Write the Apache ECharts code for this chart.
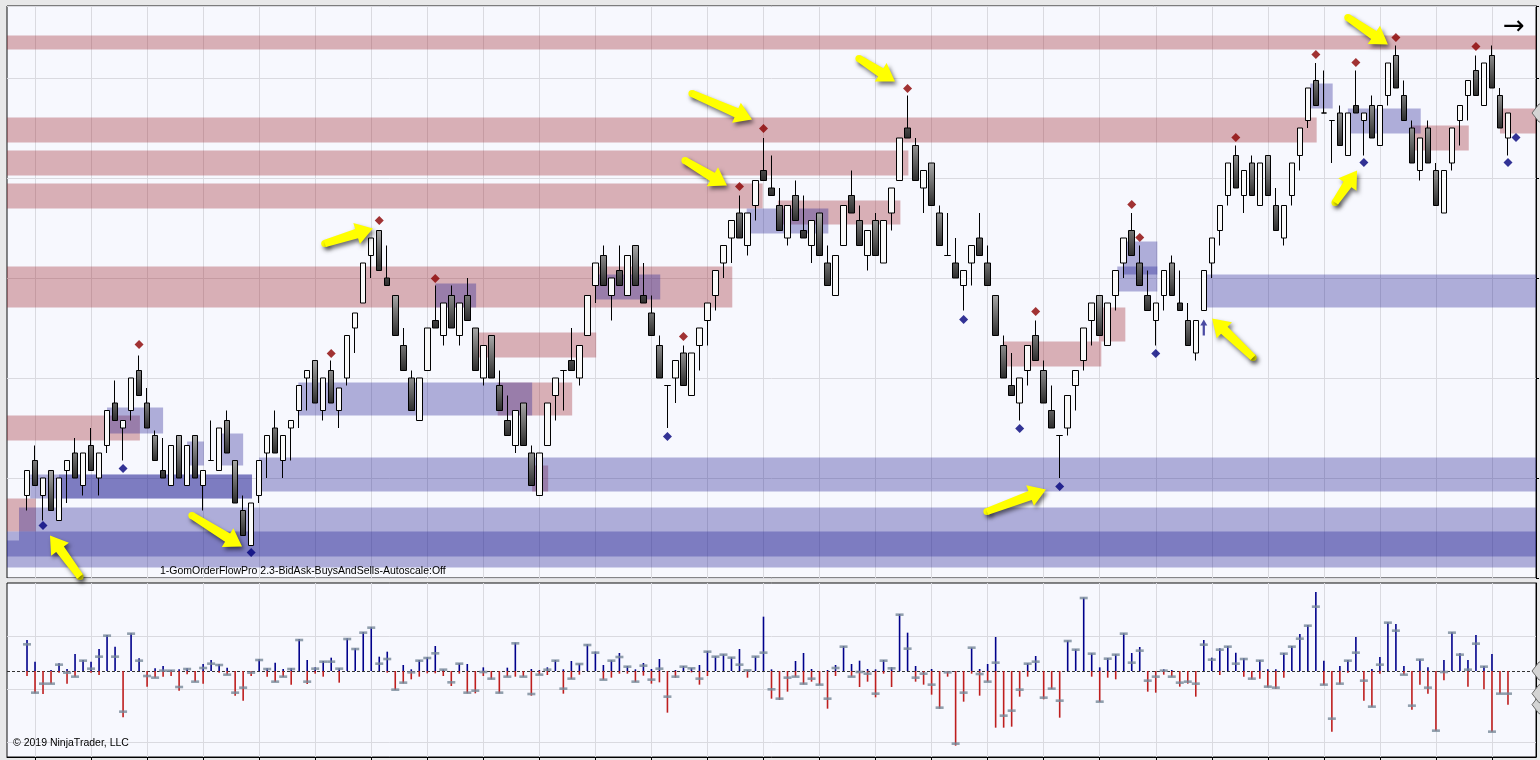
<!DOCTYPE html>
<html><head><meta charset="utf-8">
<script src="https://cdn.jsdelivr.net/npm/echarts@6/dist/echarts.min.js"></script>
<style>html,body{margin:0;padding:0;background:#E8E8E9;overflow:hidden}#c{width:1540px;height:760px}</style>
</head><body><div id="c"></div>
<script>
// ---- price bars (bar 1..186) ----
const opens = [2948.25,2951.75,2948.25,2950.75,2945.75,2950.75,2952.5,2949.25,2953.25,2950.0,
2953.25,2957.5,2955.0,2956.75,2960.75,2957.5,2954.25,2950.75,2949.25,2954.25,
2949.25,2954.25,2949.25,2951.75,2950.75,2955.75,2951.75,2946.75,2943.25,2948.25,
2952.5,2955.0,2951.75,2955.0,2956.75,2960.0,2961.75,2956.75,2960.75,2956.75,
2960.0,2965.0,2967.5,2972.25,2974.75,2970.0,2968.25,2963.25,2960.0,2955.75,
2960.75,2965.75,2964.25,2968.25,2964.25,2968.25,2965.0,2960.0,2964.25,2959.25,
2955.75,2953.25,2957.5,2952.5,2948.25,2953.25,2958.25,2960.75,2961.75,2960.0,
2964.25,2969.25,2972.25,2968.25,2970.75,2968.25,2973.25,2968.25,2966.5,2963.25,
2959.25,2960.0,2962.5,2958.25,2963.25,2965.75,2968.25,2971.5,2974.0,2976.5,
2973.25,2977.25,2980.75,2979.0,2977.25,2974.0,2978.25,2974.75,2973.25,2976.5,
2971.5,2968.25,2973.25,2978.25,2975.75,2972.25,2975.75,2971.5,2976.5,2979.75,
2985.0,2983.25,2979.0,2981.5,2976.5,2972.25,2971.5,2969.25,2971.5,2974.0,
2971.5,2968.25,2963.25,2959.25,2957.5,2960.75,2964.25,2960.75,2956.75,2954.25,
2955.0,2959.25,2961.75,2965.75,2968.25,2963.25,2968.25,2971.5,2974.75,2971.5,
2968.25,2965.75,2968.25,2971.5,2967.5,2965.75,2962.5,2966.75,2971.5,2974.75,
2978.25,2982.25,2978.25,2981.5,2977.25,2982.25,2977.25,2974.0,2978.25,2982.25,
2985.75,2989.75,2986.5,2985.75,2986.5,2982.25,2987.25,2985.75,2987.25,2983.25,
2988.25,2992.25,2988.25,2985.0,2980.75,2985.0,2980.75,2976.5,2981.5,2985.75,
2988.25,2990.75,2987.25,2992.25,2988.25,2984.0];
const closes = [2950.75,2949.25,2950.0,2946.75,2950.0,2951.75,2950.0,2952.5,2950.75,2952.5,
2956.75,2955.75,2955.75,2960.0,2958.25,2955.0,2951.75,2950.0,2953.25,2950.0,
2953.25,2950.0,2950.75,2951.75,2955.0,2952.5,2947.5,2944.25,2947.5,2951.75,
2954.25,2952.5,2954.25,2955.75,2959.25,2960.75,2957.5,2960.0,2957.5,2959.0,
2964.25,2966.5,2971.5,2974.0,2970.75,2969.25,2964.25,2960.75,2956.75,2960.0,
2965.0,2965.0,2967.5,2965.0,2967.5,2965.75,2960.75,2963.25,2960.0,2956.75,
2954.25,2956.75,2953.25,2949.25,2952.5,2957.5,2960.0,2960.75,2960.75,2963.25,
2968.25,2971.5,2969.25,2970.0,2969.25,2972.25,2969.25,2967.5,2964.25,2960.0,
2959.25,2961.75,2959.25,2962.5,2965.0,2967.5,2970.75,2973.25,2975.75,2974.0,
2976.5,2979.75,2979.75,2978.25,2974.75,2977.25,2975.75,2974.0,2975.75,2972.25,
2969.25,2972.25,2977.25,2976.5,2973.25,2974.75,2972.25,2975.75,2979.0,2984.0,
2984.0,2979.75,2980.75,2977.25,2973.25,2972.25,2970.0,2970.75,2973.25,2972.25,
2969.25,2964.25,2960.0,2958.25,2960.0,2963.25,2961.75,2957.5,2955.0,2954.25,
2958.25,2960.75,2965.0,2967.5,2964.25,2967.5,2970.75,2974.0,2972.25,2969.25,
2966.75,2967.5,2970.75,2968.25,2966.75,2963.25,2965.75,2970.75,2974.0,2977.25,
2981.5,2979.0,2980.75,2978.25,2981.5,2978.25,2974.75,2977.25,2981.5,2985.0,
2989.0,2987.25,2986.5,2985.75,2983.25,2986.5,2986.5,2986.5,2984.0,2987.25,
2991.5,2989.0,2985.75,2981.5,2984.0,2981.5,2977.25,2980.75,2985.0,2987.25,
2989.75,2988.25,2991.5,2989.0,2985.0,2986.5];
const lows = [2946.75,2949.25,2945.75,2946.75,2945.75,2947.5,2950.0,2948.25,2950.75,2948.25,
2952.5,2955.75,2951.75,2955.75,2958.25,2955.0,2951.75,2950.0,2949.25,2950.0,
2949.25,2950.0,2946.75,2951.75,2950.75,2952.5,2947.5,2944.25,2943.25,2947.5,
2950.0,2952.5,2950.0,2951.75,2955.0,2956.75,2957.5,2955.75,2957.5,2955.0,
2959.25,2962.5,2967.5,2970.0,2970.75,2969.25,2964.25,2960.75,2956.75,2955.75,
2960.75,2965.0,2963.25,2965.0,2963.25,2965.75,2960.75,2959.25,2960.0,2956.75,
2954.25,2952.5,2953.25,2949.25,2948.25,2953.25,2955.75,2956.75,2960.75,2959.25,
2964.25,2967.5,2969.25,2965.75,2969.25,2968.25,2969.25,2967.5,2964.25,2960.0,
2955.0,2957.5,2959.25,2958.25,2960.75,2963.25,2966.75,2970.0,2971.5,2974.0,
2972.25,2975.75,2979.75,2978.25,2974.75,2973.25,2975.75,2974.0,2971.5,2972.25,
2969.25,2968.25,2973.25,2976.5,2973.25,2970.75,2972.25,2971.5,2974.75,2979.75,
2984.0,2979.75,2976.5,2977.25,2973.25,2972.25,2970.0,2966.75,2969.25,2972.25,
2969.25,2964.25,2960.0,2958.25,2955.75,2959.25,2961.75,2957.5,2955.0,2950.0,
2954.25,2956.75,2960.75,2963.25,2964.25,2963.25,2966.75,2970.0,2972.25,2969.25,
2966.75,2963.25,2966.75,2968.25,2966.75,2963.25,2961.75,2966.75,2970.0,2973.25,
2977.25,2979.0,2976.5,2978.25,2977.25,2978.25,2974.75,2973.25,2977.25,2980.75,
2985.0,2987.25,2986.5,2981.5,2983.25,2982.25,2986.5,2982.25,2984.0,2983.25,
2987.25,2989.0,2985.75,2981.5,2979.75,2981.5,2977.25,2976.5,2980.75,2983.25,
2985.75,2988.25,2987.25,2989.0,2985.0,2982.25];
const highs = [2950.75,2953.25,2950.0,2950.75,2950.0,2951.75,2954.0,2952.5,2955.0,2952.5,
2956.75,2959.75,2955.75,2960.0,2962.25,2959.0,2954.75,2954.0,2953.25,2954.25,
2953.25,2954.25,2950.75,2955.75,2955.0,2956.75,2951.75,2948.25,2947.5,2951.75,
2954.25,2956.75,2954.25,2955.75,2959.25,2960.75,2961.75,2960.0,2961.75,2959.0,
2964.25,2966.5,2971.5,2974.0,2974.75,2973.25,2968.25,2965.0,2960.75,2960.0,
2965.0,2969.25,2967.5,2969.25,2967.5,2970.0,2965.0,2963.25,2964.25,2960.75,
2958.25,2956.75,2957.5,2953.25,2952.5,2957.5,2960.0,2960.75,2965.0,2963.25,
2968.25,2971.5,2973.25,2970.0,2973.25,2972.25,2973.25,2971.5,2968.25,2964.25,
2959.25,2961.75,2963.25,2962.5,2965.0,2967.5,2970.75,2973.25,2975.75,2978.25,
2976.5,2979.75,2984.0,2982.25,2979.0,2977.25,2979.75,2978.25,2975.75,2976.5,
2973.25,2972.25,2977.25,2980.75,2977.25,2974.75,2976.5,2975.75,2979.0,2984.0,
2988.25,2984.0,2980.75,2981.5,2977.25,2976.5,2974.0,2970.75,2973.25,2976.5,
2973.25,2968.25,2964.25,2962.5,2960.0,2963.25,2965.75,2961.75,2959.25,2954.25,
2958.25,2960.75,2965.0,2967.5,2968.25,2967.5,2970.75,2974.0,2976.5,2973.25,
2970.75,2967.5,2970.75,2972.25,2970.75,2967.5,2965.75,2970.75,2974.0,2977.25,
2981.5,2983.25,2980.75,2982.25,2981.5,2982.25,2979.0,2977.25,2981.5,2985.0,
2989.0,2991.5,2990.75,2985.75,2987.25,2986.5,2990.75,2986.5,2988.25,2987.25,
2991.5,2993.25,2989.75,2985.75,2984.0,2985.75,2981.5,2980.75,2985.0,2987.25,
2989.75,2992.25,2991.5,2993.25,2989.0,2986.5];

// ---- swing markers: [bar, price] ----
const swingHighs = [[15,2963.35],[39,2962.45],[45,2975.75],[52,2969.95],[83,2964.15],[90,2979.15],[93,2984.95],
[111,2988.95],[127,2966.65],[139,2977.35],[140,2974.05],[152,2984.05],[162,2992.35],[167,2991.55],[172,2994.05],[182,2993.15]];
const swingLows = [[3,2945.25],[13,2950.95],[29,2942.55],[81,2954.15],[118,2965.85],[125,2954.95],[130,2949.15],
[142,2962.45],[168,2981.55],[186,2981.55],[187,2984.05]];
const signalUp = [[148,2965.05]];

// ---- zones: [startBar, endBar, top, bottom] ----
const supplyZones = [[-1.5,189.5,2994.25,2992.85],[-1.5,162.1,2986.05,2983.55],[-1.5,111.1,2982.75,2980.25],
[-1.5,92.9,2979.45,2976.95],[-1.5,89.1,2971.15,2967.05],[57.2,72.1,2964.55,2962.05],[59.8,69.1,2959.55,2956.25],
[-1.5,15.1,2956.25,2953.75],[-1.5,2.1,2947.95,2944.65],[94.8,110.1,2977.75,2975.35],[64.1,66.1,2951.25,2948.65],
[122.9,135.2,2963.65,2961.15],[134.9,138.2,2967.05,2963.65],[174.0,181.1,2985.25,2982.75],[185.0,189.5,2986.95,2984.45]];
const demandZones = [[0.0,189.5,2947.05,2942.15],[-1.5,189.5,2944.65,2941.05],[-1.5,0.0,2943.75,2942.15],
[30.0,189.5,2952.05,2948.65],[1.4,29.1,2950.35,2947.95],[5.0,29.1,2950.35,2947.95],[11.0,18.0,2957.05,2954.45],
[21.0,23.1,2953.65,2951.25],[24.7,28.0,2954.45,2951.25],[34.9,64.1,2959.55,2956.25],[52.0,57.1,2969.45,2967.05],
[72.0,80.1,2970.35,2967.85],[90.9,101.1,2976.95,2974.45],[137.2,142.2,2971.15,2968.65],[137.9,142.2,2973.65,2970.35],
[148.4,189.5,2970.35,2967.05],[161.3,164.1,2989.45,2986.95],[166.0,175.1,2986.95,2984.45]];

// ---- annotation arrows: [tailBar, tailPrice, headBar, headPrice] ----
const callouts = [[7.62,2940.15,3.87,2944.25],[21.6,2946.25,27.86,2943.15],[38.2,2973.45,44.2,2974.95],
[84.07,2988.45,91.57,2985.85],[83.2,2981.75,88.44,2979.25],[104.93,2991.95,109.43,2989.65],
[120.92,2946.65,128.29,2948.85],[154.15,2962.05,149.03,2965.95],[164.4,2977.55,167.15,2980.75],
[166.0,2996.05,171.0,2993.35]];

// ---- buys / sells / delta per bar ----
const buys = [93,28,0,3,23,6,51,33,28,66,108,73,0,113,38,0,8,15,3,5,8,0,21,33,20,10,0,0,0,35,
8,25,6,8,96,33,11,30,40,8,98,68,117,131,43,58,0,18,5,33,41,75,4,0,23,21,0,11,0,0,
10,85,0,6,3,11,33,5,30,22,80,58,18,32,54,15,5,24,6,36,0,3,15,9,18,60,44,50,41,66,
2,44,163,5,0,0,30,54,6,0,3,18,75,21,31,6,5,33,11,171,115,15,0,6,0,0,0,0,70,6,
21,102,0,0,0,23,45,0,0,0,91,65,220,53,11,39,50,113,54,72,0,0,5,3,0,0,0,93,40,68,
75,55,38,0,33,5,5,54,75,111,138,237,31,0,15,33,102,0,6,42,146,141,15,0,35,11,0,33,116,53,
33,108,15,51,0,0];
const sells = [15,67,69,38,5,38,17,0,5,12,0,0,139,0,0,47,20,17,15,59,10,32,38,0,5,11,74,89,15,0,
17,33,18,41,0,39,8,17,0,35,0,0,0,0,0,5,57,37,25,17,7,7,15,45,8,67,67,15,25,67,
17,17,17,74,11,12,0,68,24,11,0,0,26,20,8,8,33,14,38,34,125,20,0,4,41,15,0,0,0,0,
20,0,0,83,87,62,17,40,32,42,113,15,0,17,48,32,79,8,48,0,0,32,41,71,113,17,224,92,8,74,
32,170,170,167,77,17,0,85,54,140,0,0,0,17,93,20,25,0,0,0,62,65,11,17,47,38,77,0,0,12,
0,0,17,25,23,49,53,20,0,0,0,0,42,182,40,5,0,89,108,8,0,0,11,116,41,68,179,28,0,0,
47,0,55,182,68,101];
const delta = [80,-65,-38,-38,19,-5,-17,31,7,43,106,43,-122,112,31,-15,-20,1,1,-48,6,-32,9,22,18,-11,-65,-50,-5,33,
6,-32,-17,6,93,-32,7,28,28,7,96,66,115,130,22,36,-56,-35,-4,31,39,53,4,-34,22,-65,-59,-3,-23,-65,
-17,83,-17,-69,-11,4,31,-53,-23,21,78,55,-26,31,42,13,-32,16,-26,7,-77,-17,13,8,-23,58,43,49,40,19,
2,43,55,-55,-83,-20,-17,-38,-23,-41,-83,9,73,-17,-3,-8,-68,31,8,169,67,-20,-8,-41,-110,-4,-218,-65,70,-9,
-32,25,-134,-119,-56,22,28,-80,-53,-89,90,64,219,52,-92,37,49,112,25,61,-29,-17,1,-17,-35,-32,-38,79,34,64,
73,22,36,-23,31,-47,-50,52,73,97,136,193,-41,-143,-38,31,55,-29,-107,19,145,121,-11,-104,34,-50,-179,-3,115,49,
4,82,13,-182,-68,-68];

// ---- axis setup ----
const NCAT = 191;                         // 2 empty slots before bar 1, a few after bar 186
const categories = Array.from({length: NCAT}, (_, i) => String(i - 1));
const BAR_MIN = -1.5, BAR_MAX = 189.5;
const gridBars = []; for (let b = 2; b <= 189; b += 7) gridBars.push(b);

function pad(fn) { return categories.map((_, i) => { const b = i - 1; return (b >= 1 && b <= opens.length) ? fn(b - 1) : '-'; }); }
const candleData = pad(k => [opens[k], closes[k], lows[k], highs[k]]);
const buysData = pad(k => buys[k]);
const sellsData = pad(k => -sells[k]);
const deltaData = pad(k => delta[k]);

const zoneRows = supplyZones.map(z => z.concat(0)).concat(demandZones.map(z => z.concat(1)));
const RED_ZONE = 'rgba(155,27,35,0.33)', BLUE_ZONE = 'rgba(32,28,148,0.34)';
const GRID_COL = '#DADAE0';
const FONT = '"Liberation Sans", Arial, sans-serif';

const chart = echarts.init(document.getElementById('c'));

function arrowItem(params, api) {
  const t = api.coord([api.value(0), api.value(1)]);
  const h = api.coord([api.value(2), api.value(3)]);
  const dx = h[0] - t[0], dy = h[1] - t[1], len = Math.hypot(dx, dy);
  const ux = dx / len, uy = dy / len, nx = -uy, ny = ux;
  const headLen = 17, headW = 11, wT = 3.6, wB = 4.8;
  const bx = h[0] - ux * headLen, by = h[1] - uy * headLen;
  const pts = [
    [t[0] + nx * wT, t[1] + ny * wT], [bx + nx * wB, by + ny * wB], [bx + nx * headW, by + ny * headW],
    [h[0], h[1]], [bx - nx * headW, by - ny * headW], [bx - nx * wB, by - ny * wB], [t[0] - nx * wT, t[1] - ny * wT]
  ];
  const sh = {shadowBlur: 4, shadowColor: 'rgba(0,0,0,0.55)', shadowOffsetX: 2, shadowOffsetY: 3};
  return {type: 'group', children: [
    {type: 'circle', shape: {cx: t[0], cy: t[1], r: wT}, style: Object.assign({fill: '#FFFF00'}, sh)},
    {type: 'polygon', shape: {points: pts}, style: Object.assign({fill: '#FFFF00'}, sh)}
  ]};
}
function zoneItem(params, api) {
  const a = api.coord([api.value(0), api.value(2)]);
  const b = api.coord([api.value(1), api.value(3)]);
  return {type: 'rect', shape: {x: a[0], y: a[1], width: b[0] - a[0], height: b[1] - a[1]},
    style: {fill: api.value(4) === 0 ? RED_ZONE : BLUE_ZONE}};
}
function tagItem(params, api) {
  const p = api.coord([BAR_MAX, api.value(0)]);
  const x = p[0] + 1, y = p[1];
  return {type: 'polygon', shape: {points: [[x - 5, y], [x + 2, y - 9], [x + 12, y - 9], [x + 12, y + 9], [x + 2, y + 9]]},
    style: {fill: '#D4D4D4', stroke: '#6A6A6A', lineWidth: 1}};
}
const vLines = gridBars.map(b => ({xAxis: b}));

chart.setOption({
  animation: false,
  backgroundColor: '#E8E8E9',
  grid: [
    {left: 7, top: 6, width: 1529, height: 572, show: true, backgroundColor: '#F7F8FE', borderColor: '#111', borderWidth: 1},
    {left: 7, top: 583, width: 1529, height: 174, show: true, backgroundColor: '#F7F8FE', borderColor: '#111', borderWidth: 1}
  ],
  xAxis: [
    {type: 'category', gridIndex: 0, data: categories, boundaryGap: true, axisLine: {show: false}, axisTick: {show: false}, axisLabel: {show: false}, splitLine: {show: false}},
    {type: 'value', gridIndex: 0, min: BAR_MIN, max: BAR_MAX, show: false},
    {type: 'category', gridIndex: 1, data: categories, boundaryGap: true,
      axisLine: {show: true, onZero: false, lineStyle: {color: '#000'}},
      axisTick: {show: true, alignWithLabel: true, length: 4, interval: (i) => (i - 3) % 7 === 0, lineStyle: {color: '#000'}},
      axisLabel: {show: false}, splitLine: {show: false}},
    {type: 'value', gridIndex: 1, min: BAR_MIN, max: BAR_MAX, show: false}
  ],
  yAxis: [
    {type: 'value', gridIndex: 0, position: 'right', min: 2940, max: 2997.2, interval: 10,
      axisLine: {show: true, onZero: false, lineStyle: {color: '#000'}}, axisTick: {show: true, length: 3, lineStyle: {color: '#000'}},
      axisLabel: {show: false}, splitLine: {show: true, lineStyle: {color: GRID_COL, width: 1}}},
    {type: 'value', gridIndex: 1, position: 'right', min: -258, max: 264,
      axisLine: {show: true, onZero: false, lineStyle: {color: '#000'}}, axisTick: {show: false}, axisLabel: {show: false}, splitLine: {show: false}}
  ],
  series: [
    {type: 'line', xAxisIndex: 1, yAxisIndex: 0, data: [], silent: true, z: 1,
      markLine: {silent: true, symbol: 'none', z: 1, label: {show: false}, lineStyle: {color: GRID_COL, type: 'solid', width: 1}, data: vLines}},
    {type: 'custom', name: 'zones', xAxisIndex: 1, yAxisIndex: 0, renderItem: zoneItem, data: zoneRows, z: 2, silent: true,
      encode: {x: [0, 1], y: [2, 3]}},
    {type: 'candlestick', name: 'price', xAxisIndex: 0, yAxisIndex: 0, data: candleData, barWidth: 6, z: 3,
      itemStyle: {color: '#F9F9F9', color0: {type: 'linear', x: 0, y: 0, x2: 0, y2: 1, colorStops: [{offset: 0, color: '#A9A9A9'}, {offset: 1, color: '#2B2B2B'}]},
        borderColor: '#000', borderColor0: '#000', borderColorDoji: '#000', borderWidth: 1}},
    {type: 'scatter', name: 'swing highs', xAxisIndex: 1, yAxisIndex: 0, data: swingHighs, symbol: 'diamond', symbolSize: [9, 9], z: 4,
      itemStyle: {color: '#8B0000'}},
    {type: 'scatter', name: 'swing lows', xAxisIndex: 1, yAxisIndex: 0, data: swingLows, symbol: 'diamond', symbolSize: [9, 9], z: 4,
      itemStyle: {color: '#00007A'}},
    {type: 'scatter', name: 'signal', xAxisIndex: 1, yAxisIndex: 0, data: signalUp, z: 4,
      symbol: 'path://M5,0 L10,6 L6.6,6 L6.6,16 L3.4,16 L3.4,6 L0,6 Z', symbolSize: [7, 16], itemStyle: {color: '#1E1E8C'}},
    {type: 'custom', name: 'callouts', xAxisIndex: 1, yAxisIndex: 0, renderItem: arrowItem, data: callouts, z: 10, silent: true,
      encode: {x: [0, 2], y: [1, 3]}},
    {type: 'custom', name: 'last price', xAxisIndex: 1, yAxisIndex: 0, renderItem: tagItem, data: [[closes[closes.length - 1]]], z: 11, silent: true,
      encode: {y: 0}, clip: false},
    // lower panel
    {type: 'bar', name: 'buys', xAxisIndex: 2, yAxisIndex: 1, data: buysData, barWidth: 1.6, barGap: '-100%', z: 3,
      itemStyle: {color: '#00008B'},
      markLine: {silent: true, symbol: 'none', z: 1, label: {show: false}, lineStyle: {color: GRID_COL, type: 'solid', width: 1},
        data: [{yAxis: 105}, {yAxis: -54}, {yAxis: -213}]}},
    {type: 'bar', name: 'sells', xAxisIndex: 2, yAxisIndex: 1, data: sellsData, barWidth: 1.6, barGap: '-100%', z: 3,
      itemStyle: {color: '#BE1E1E'},
      markLine: {silent: true, symbol: 'none', z: 2, label: {show: false}, lineStyle: {color: '#333', type: [3, 2], width: 1},
        data: [{yAxis: 0}]}},
    {type: 'line', xAxisIndex: 3, yAxisIndex: 1, data: [], silent: true, z: 1,
      markLine: {silent: true, symbol: 'none', z: 1, label: {show: false}, lineStyle: {color: GRID_COL, type: 'solid', width: 1}, data: vLines}},
    {type: 'scatter', name: 'delta', xAxisIndex: 2, yAxisIndex: 1, data: deltaData, symbol: 'rect', symbolSize: [8, 2.6], z: 5,
      itemStyle: {color: '#778899'}},
    {type: 'custom', name: 'last values', xAxisIndex: 3, yAxisIndex: 1, renderItem: tagItem,
      data: [[buys[buys.length - 1]], [-sells[sells.length - 1]], [delta[delta.length - 1]]], z: 11, silent: true, encode: {y: 0}, clip: false}
  ],
  graphic: [
    {type: 'text', left: 160, top: 566, z: 20, style: {text: '1-GomOrderFlowPro 2.3-BidAsk-BuysAndSells-Autoscale:Off', font: '10.5px ' + FONT, fill: '#000'}},
    {type: 'text', left: 13, top: 738, z: 20, style: {text: '© 2019 NinjaTrader, LLC', font: '10.5px ' + FONT, fill: '#000'}},
    {type: 'text', left: 1503, top: 14, z: 20, style: {text: '→', font: '26px "DejaVu Sans", sans-serif', fill: '#000'}}
  ]
});
</script></body></html>
